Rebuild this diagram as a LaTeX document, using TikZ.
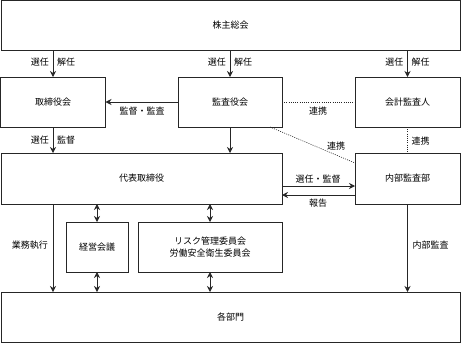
\documentclass[tikz,border=0pt]{standalone}
\usepackage{fontspec}
\setmainfont{Noto Sans CJK JP}
\usetikzlibrary{arrows.meta,calc}
\tikzset{
  box/.style={draw=black!85, line width=0.8pt, outer sep=0pt, inner sep=0pt, font=\fontsize{9}{12}\selectfont, align=center},
  arr/.style={draw=black!85, line width=0.8pt, -{Stealth[length=6pt,width=6pt]}},
  darr/.style={draw=black!85, line width=0.8pt, {Stealth[length=6pt,width=6pt]}-{Stealth[length=6pt,width=6pt]}},
  dot/.style={draw=black!85, line width=0.6pt, dash pattern=on 1pt off 1.2pt},
  lbl/.style={font=\fontsize{9}{11}\selectfont, inner sep=0pt}
}
\begin{document}
\begin{tikzpicture}[x=1pt,y=-1pt]
\useasboundingbox (0,0) rectangle (461,343);
\node[box, minimum width=459pt, minimum height=50pt] (sh) at (230.5,25.5) {株主総会};
\node[box, minimum width=105pt, minimum height=50pt] (bd) at (53,102) {取締役会};
\node[box, minimum width=104pt, minimum height=50pt] (kan) at (230,102) {監査役会};
\node[box, minimum width=105pt, minimum height=50pt] (acc) at (407.5,102) {会計監査人};
\node[box, minimum width=281pt, minimum height=51pt] (rep) at (141.5,178.5) {代表取締役};
\node[box, minimum width=105pt, minimum height=51pt] (ia) at (407.5,178.5) {内部監査部};
\node[box, minimum width=62pt, minimum height=50pt] (mgmt) at (97,247) {経営会議};
\node[box, minimum width=144pt, minimum height=50pt] (risk) at (210,247) {リスク管理委員会\\労働安全衛生委員会};
\node[box, minimum width=459pt, minimum height=50pt] (dept) at (230.5,317) {各部門};

% shareholders
\draw[arr] (sh.south -| bd) -- (bd.north);
\draw[arr] (sh.south -| kan) -- (kan.north);
\draw[arr] (sh.south -| acc) -- (acc.north);
\foreach \n in {bd,kan,acc}{
  \node[lbl, anchor=east] at ($(sh.south -| \n)+(-4,12)$) {選任};
  \node[lbl, anchor=west] at ($(sh.south -| \n)+(4,12)$) {解任};
}
% kansayakukai -> board
\draw[arr] (kan.west) -- (bd.east);
\node[lbl] at (142,111) {監督・監査};
\draw[dot] (kan.east) -- (acc.west);
\node[lbl] at (318,111) {連携};
\coordinate (kd) at ($(kan.south east)+(-12,0)$);
\coordinate (iw) at ($(ia.north west)+(0,10)$);
\draw[dot] (kd) -- (iw);
\node[lbl] at (336,146) {連携};
\draw[dot] (acc.south) -- (ia.north);
\node[lbl, anchor=west] at ($(acc.south)+(4,14)$) {連携};
% to representative
\draw[arr] (bd.south) -- (bd.south |- rep.north);
\node[lbl, anchor=east] at ($(bd.south)+(-4,13)$) {選任};
\node[lbl, anchor=west] at ($(bd.south)+(4,13)$) {監督};
\draw[arr] (kan.south) -- (kan.south |- rep.north);
% rep <-> internal audit
\coordinate (r1) at ($(rep.east)+(0,7.5)$);
\coordinate (r2) at ($(rep.east)+(0,16.5)$);
\draw[arr] (r1) -- (r1 -| ia.west);
\draw[arr] (r2 -| ia.west) -- (r2);
\node[lbl] at (318,179) {選任・監督};
\node[lbl] at (318,203) {報告};
% to departments
\draw[arr] (bd.south |- rep.south) -- (bd.south |- dept.north);
\node[lbl, anchor=east] at (48,245) {業務執行};
\draw[darr] (mgmt.north |- rep.south) -- (mgmt.north);
\draw[darr] (risk.north |- rep.south) -- (risk.north);
\draw[darr] (mgmt.south) -- (mgmt.south |- dept.north);
\draw[darr] (risk.south) -- (risk.south |- dept.north);
\draw[arr] (ia.south) -- (ia.south |- dept.north);
\node[lbl, anchor=west] at ($(ia.south)+(5,41)$) {内部監査};
\end{tikzpicture}
\end{document}
